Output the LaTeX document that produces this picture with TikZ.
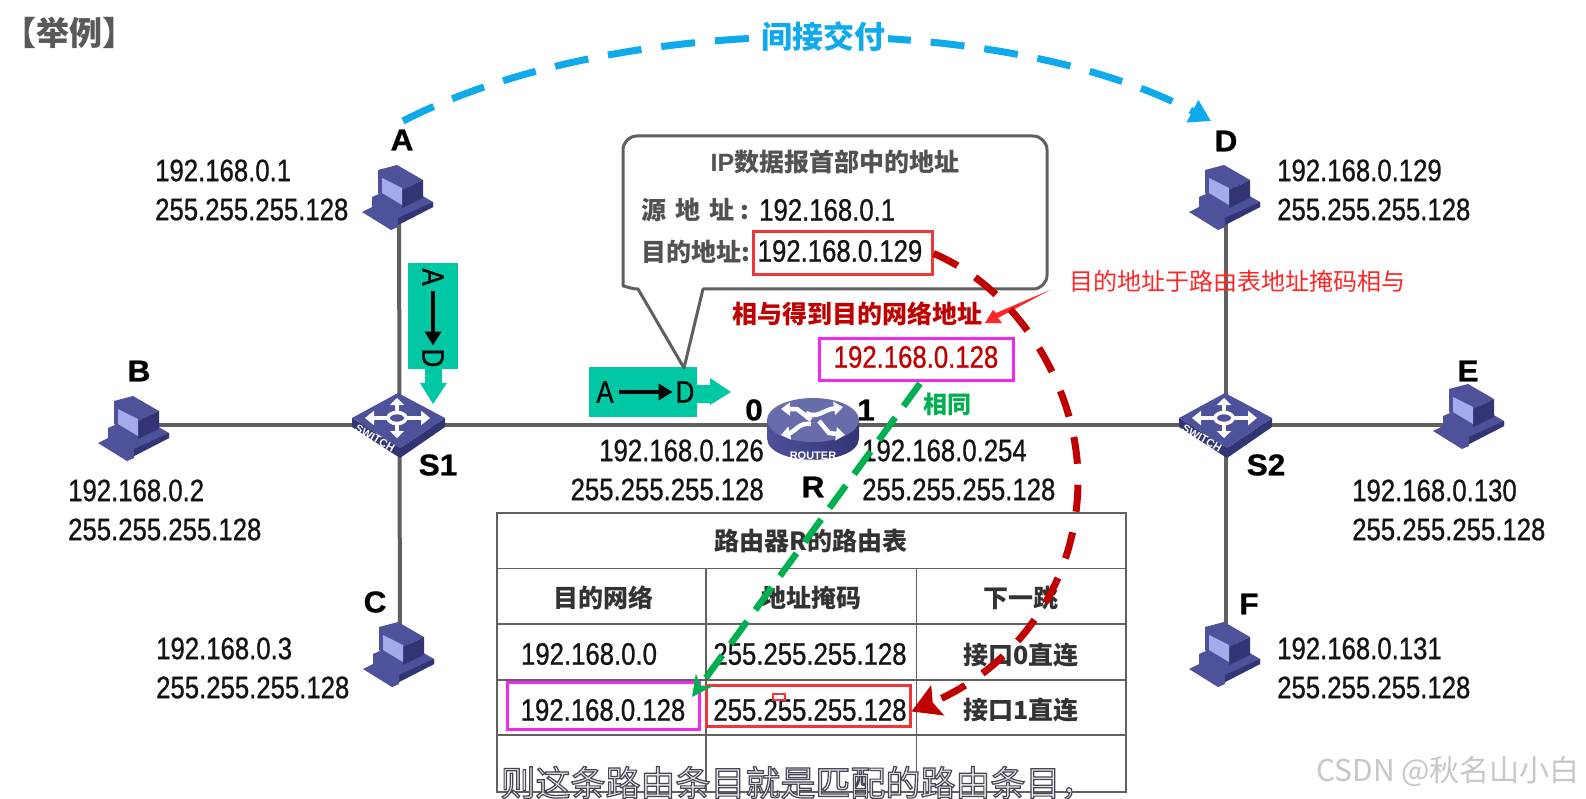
\documentclass[tikz,border=0pt]{standalone}
\usepackage{fontspec}
\usetikzlibrary{positioning,arrows.meta,calc}
\setmainfont{Liberation Sans}
\newfontfamily\cjk{Noto Sans CJK SC}
\newfontfamily\outlinefont[FakeBold=3.4]{Noto Sans CJK SC}
\newfontfamily\ipfont[FakeStretch=.83,FakeBold=.8]{Liberation Sans}
\newfontfamily\namefont[BoldFeatures={FakeBold=.9,FakeStretch=1.05}]{Liberation Sans}
\definecolor{wire}{RGB}{95,95,95}
\definecolor{teal}{RGB}{0,200,165}
\definecolor{skyline}{RGB}{15,170,235}
\definecolor{darkred}{RGB}{192,0,0}
\definecolor{hitred}{RGB}{240,55,55}
\definecolor{pinkbox}{RGB}{240,40,240}
\definecolor{samegreen}{RGB}{0,176,80}
\definecolor{devdark}{RGB}{50,52,115}
\definecolor{devmid}{RGB}{78,82,155}
\definecolor{devlight}{RGB}{165,170,235}
\tikzset{
  iptext/.style={font=\ipfont\fontsize{31}{39}\selectfont,text=black!92,inner sep=0pt},
  namelabel/.style={font=\namefont\bfseries\fontsize{30}{30}\selectfont,inner sep=0pt},
  cjktext/.style={font=\cjk\bfseries\fontsize{25}{25}\selectfont,text=black!80,inner sep=0pt},
  grayline/.style={draw=black!62,line width=1.8pt},
  redframe/.style={draw=hitred,line width=3pt,inner sep=0pt},
  pinkframe/.style={draw=pinkbox,line width=3pt,inner sep=0pt},
  computer/.pic={
    \fill[devmid] (-37,14) -- (-27,9) -- (-1,22) -- (-1,29) -- (-8,32) -- cycle;
    \fill[devmid] (-27,-1) -- (3,-14) -- (34,4) -- (34,9) -- (-1,27) -- (-27,11) -- cycle;
    \fill[devdark] (-1,27) -- (34,9) -- (34,4) -- (-1,20) -- cycle;
    \fill[devmid] (-21,-28) -- (-2,-33) -- (24,-18) -- (3,-8) -- (3,10) -- (-21,-5) -- cycle;
    \fill[devdark] (3,-8) -- (24,-18) -- (24,0) -- (3,10) -- cycle;
    \fill[devlight] (-17,-20) -- (3,-10) -- (3,7) -- (-17,-5) -- cycle;
  },
  switchbox/.pic={
    \fill[devdark] (-47,-7) -- (-47,2) -- (1,33) -- (46,2) -- (46,-7) -- (1,23) -- cycle;
    \fill[devmid] (-47,-7) -- (-1,-32) -- (46,-7) -- (1,23) -- cycle;
    \draw[white,line width=3.5pt] (-2,-7) ellipse [x radius=9pt,y radius=5.5pt];
    \draw[white,line width=4pt,-{Triangle[length=9pt,width=14pt]}] (-12,-7) -- (-34,-7);
    \draw[white,line width=4pt,-{Triangle[length=9pt,width=14pt]}] (8,-7) -- (31,-7);
    \draw[white,line width=4pt,-{Triangle[length=7pt,width=14pt]}] (-2,-13) -- (-2,-27);
    \draw[white,line width=4pt,-{Triangle[length=7pt,width=14pt]}] (-2,-1) -- (-2,13);
    \node[white,font=\bfseries\fontsize{11}{11}\selectfont,rotate=-30,inner sep=0pt] (-tag) at (-24,13) {SWITCH};
  },
  routerbox/.pic={
    \shade[left color=devmid,right color=devdark] (-46,0) -- (-46,18) .. controls (-46,47) and (46,47) .. (46,18) -- (46,0) -- cycle;
    \fill[devmid!85!white] (0,0) ellipse [x radius=46pt,y radius=22pt];
    \draw[white,line width=4.5pt,-{Triangle[length=9pt,width=13pt]}] (-2,0) -- (-16,-11) -- (-32,-11);
    \draw[white,line width=4.5pt,-{Triangle[length=9pt,width=13pt]}] (-7,-7) .. controls (4,-1) and (10,-10) .. (30,-13);
    \draw[white,line width=4.5pt,-{Triangle[length=9pt,width=13pt]}] (-2,4) .. controls (-14,2) and (-18,12) .. (-32,15);
    \draw[white,line width=4.5pt,-{Triangle[length=9pt,width=13pt]}] (6,1) -- (16,13) -- (32,15);
    \node[white,font=\bfseries\fontsize{11}{11}\selectfont,inner sep=0pt] (-tag) at (0,36) {ROUTER};
  },
}

\begin{document}
\begin{tikzpicture}[x=1pt,y=-1pt]
  \clip (0,0) rectangle (1586,799);
  \fill[white] (0,0) rectangle (1586,799);
  \coordinate (pcA) at (399,198);
  \coordinate (pcB) at (135,429);
  \coordinate (pcC) at (400,655);
  \coordinate (pcD) at (1226,198);
  \coordinate (pcE) at (1470,417);
  \coordinate (pcF) at (1226,655);
  \coordinate (swOne) at (399,425);
  \coordinate (swTwo) at (1226,425);
  \coordinate (rtR) at (813,420);

  \draw[wire,line width=4pt] (pcA) -- (pcC);
  \draw[wire,line width=4pt] (pcD) -- (pcF);
  \draw[wire,line width=4pt] (pcB |- swOne) -- (pcE |- swOne);

  \pic at (pcA) {computer};
  \pic at (pcB) {computer};
  \pic at (pcC) {computer};
  \pic at (pcD) {computer};
  \pic at (pcE) {computer};
  \pic at (pcF) {computer};
  \pic (one) at (swOne) {switchbox};
  \pic (two) at (swTwo) {switchbox};
  \pic (rt) at (rtR) {routerbox};

  \node[font=\cjk\bfseries\fontsize{33}{33}\selectfont,text=black!65,inner sep=0pt] (example) at (69,33) {【举例】};

  \node[namelabel] (nameA) at (402,140) {A};
  \node[namelabel] (nameB) at (139,371) {B};
  \node[namelabel] (nameC) at (375,602) {C};
  \node[namelabel] (nameD) at (1226,141) {D};
  \node[namelabel] (nameE) at (1468,371) {E};
  \node[namelabel] (nameF) at (1249,604) {F};
  \node[namelabel] (nameOne) at (438,465) {S1};
  \node[namelabel] (nameTwo) at (1266,465) {S2};
  \node[namelabel] (nameR) at (813,487) {R};
  \node[namelabel] (portZero) at (754,410) {0};
  \node[namelabel] (portOne) at (866,410) {1};

  \node[iptext,align=left,anchor=west] (ipA) at (155,190) {192.168.0.1\\255.255.255.128};
  \node[iptext,align=left,anchor=west] (ipB) at (68,510) {192.168.0.2\\255.255.255.128};
  \node[iptext,align=left,anchor=west] (ipC) at (156,668) {192.168.0.3\\255.255.255.128};
  \node[iptext,align=left,anchor=west] (ipD) at (1277,190) {192.168.0.129\\255.255.255.128};
  \node[iptext,align=left,anchor=west] (ipE) at (1352,510) {192.168.0.130\\255.255.255.128};
  \node[iptext,align=left,anchor=west] (ipF) at (1277,668) {192.168.0.131\\255.255.255.128};
  \node[iptext,align=right,anchor=east] (ipZero) at (764,470) {192.168.0.126\\255.255.255.128};
  \node[iptext,align=left,anchor=west] (ipOne) at (862,470) {192.168.0.254\\255.255.255.128};

  % packet tags
  \fill[teal] (408,263) rectangle (458,369);
  \fill[teal] (425,369) -- (425,383) -- (420,383) -- (433,404) -- (447,383) -- (442,383) -- (442,369) -- cycle;
  \fill[teal] (589,367) rectangle (697,417);
  \fill[teal] (697,385) -- (710,385) -- (710,378) -- (731,392) -- (710,405) -- (710,403) -- (697,403) -- cycle;
  \node[iptext,text=black,rotate=-90] (tagAv) at (433,277) {A};
  \node[iptext,text=black,rotate=-90] (tagDv) at (433,358) {D};
  \draw[line width=4.5pt,shorten <=5pt,shorten >=3pt,-{Triangle[length=14pt,width=16pt]}] (tagAv) -- (tagDv);
  \node[iptext,text=black] (tagAh) at (605,392) {A};
  \node[iptext,text=black] (tagDh) at (685,392) {D};
  \draw[line width=4.5pt,shorten <=5pt,shorten >=3pt,-{Triangle[length=14pt,width=16pt]}] (tagAh) -- (tagDh);

  % header callout
  \draw[wire,line width=3pt,line join=round] (703,289) [rounded corners=14pt] -- (1047,289) -- (1047,136) -- (623,136) -- (623,272) [sharp corners] .. controls (623,285) and (630,289) .. (638,289) -- (684,368) -- cycle;
  \node[cjktext,text=black!68] (headTitle) at (835,162) {\rmfamily\bfseries IP\cjk\bfseries 数据报首部中的地址};
  \node[cjktext,text=black!68,anchor=west] (srcLabel) at (641,210) {源\hspace{9pt}地\hspace{9pt}址\hspace{6pt}:};
  \node[cjktext,text=black!68,anchor=west] (dstLabel) at (641,252) {目的地址:};
  \node[iptext,anchor=west] (srcIp) at (759,210) {192.168.0.1};
  \node[redframe,minimum width=179pt,minimum height=43pt] (dstBox) at (842.5,253.5) {};
  \node[iptext] (dstIp) at (840,251) {192.168.0.129};
  \node[font=\cjk\bfseries\fontsize{25}{25}\selectfont,text=darkred,inner sep=0pt] (andText) at (857,314) {相与得到目的网络地址};
  \node[pinkframe,minimum width=194pt,minimum height=42pt] (netBox) at (916,359) {};
  \node[iptext,text=darkred] (netAddr) at (916,357) {192.168.0.128};
  \node[font=\cjk\bfseries\fontsize{24}{24}\selectfont,text=samegreen,inner sep=0pt] (sameText) at (947,404) {相同};

  \node[font=\cjk\fontsize{24}{24}\selectfont,text=red!85!white,inner sep=0pt,anchor=west] (noteText) at (1069,281) {目的地址于路由表地址掩码相与};
  \fill[red!85!white] (1050,290) -- (998,318) -- (1002,323) -- (985,323) -- (993,310) -- (996,313) -- cycle;

  % routing table
  \draw[grayline] (497,513) rectangle (1126,792);
  \draw[grayline] (497,568.5) -- (1126,568.5);
  \draw[grayline] (497,624) -- (1126,624);
  \draw[grayline] (497,680) -- (1126,680);
  \draw[grayline] (497,735) -- (1126,735);
  \draw[grayline] (706,568.5) -- (706,792);
  \draw[grayline] (916.5,568.5) -- (916.5,792);
  \node[cjktext] (tblTitle) at (811,541) {路由器R的路由表};
  \node[cjktext] (headNet) at (603,598) {目的网络};
  \node[cjktext] (headMask) at (811,598) {地址掩码};
  \node[cjktext] (headHop) at (1021,598) {下一跳};
  \node[iptext] (rowOneNet) at (589,654) {192.168.0.0};
  \node[iptext] (rowOneMask) at (810,654) {255.255.255.128};
  \node[cjktext] (rowOneHop) at (1021,655) {接口0直连};
  \node[pinkframe,minimum width=192pt,minimum height=47pt] (rowTwoNetBox) at (603,705.5) {};
  \node[iptext] (rowTwoNet) at (603,710) {192.168.0.128};
  \node[redframe,minimum width=204pt,minimum height=41pt] (rowTwoMaskBox) at (808,705.5) {};
  \node[iptext] (rowTwoMask) at (810,710) {255.255.255.128};
  \node[draw=hitred,line width=1.5pt,minimum width=12pt,minimum height=6pt,inner sep=0pt] (tinyMark) at (779,697) {};
  \node[cjktext] (rowTwoHop) at (1021,710) {接口1直连};

  % dashed routes
  \coordinate (greenTip) at (692,697);
  \draw[samegreen,line width=6.5pt,dash pattern=on 28pt off 14pt,-{Stealth[length=21pt,width=21pt]}] (netBox.south) ++(4,2) -- (greenTip);
  \draw[darkred,line width=7pt,dash pattern=on 27pt off 21pt,-{Stealth[length=28pt,width=32pt,inset=5pt]}] (dstBox.east) .. controls (1020,290) and (1078,390) .. (1078,480) .. controls (1078,580) and (1020,665) .. ($(rowTwoMaskBox.east)+(0,6)$);
  \coordinate (arcStart) at (403,121);
  \coordinate (arcEnd) at (1211,121);
  \draw[skyline,line width=7pt,dash pattern=on 34pt off 20pt,-{Triangle[length=21pt,width=24pt]}] (arcStart) .. controls (620,10) and (1000,10) .. (arcEnd);
  \node[fill=white,font=\cjk\bfseries\fontsize{31}{31}\selectfont,text=skyline,inner sep=3pt] (viaText) at (823,37) {间接交付};

  % caption and mark
  \node[font=\cjk\fontsize{30}{30}\selectfont,text=black!22,inner sep=0pt,anchor=east] (csdnMark) at (1580,771) {CSDN @秋名山小白};
  \node[font=\outlinefont\fontsize{35}{35}\selectfont,text=black!8,inner sep=0pt] (caption) at (798,783) {\special{pdf:code 0.27 0.27 0.33 RG}则这条路由条目就是匹配的路由条目，};
\end{tikzpicture}
\end{document}
